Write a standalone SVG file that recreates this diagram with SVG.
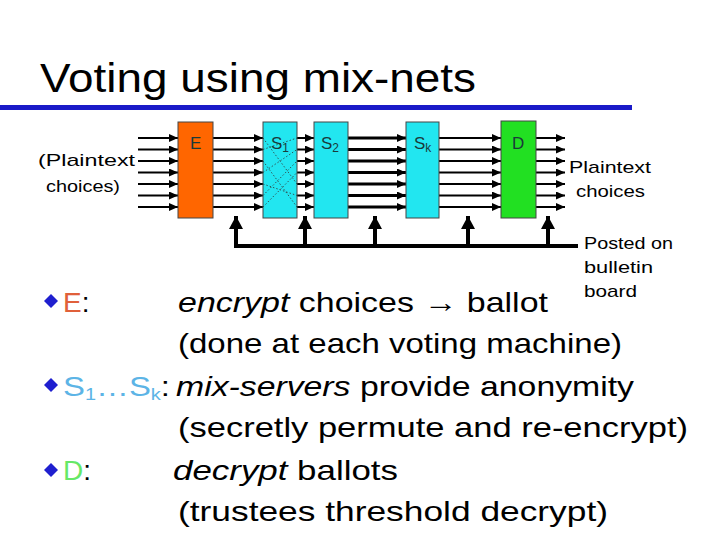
<svg xmlns="http://www.w3.org/2000/svg" width="720" height="540" viewBox="0 0 720 540">
<style>
.t{font-family:"Liberation Sans","DejaVu Sans",sans-serif;fill:#000}
.body{font-size:28px}
.lbl{font-size:17px}
.box{stroke:#444;stroke-width:1}
.bx{font-family:"Liberation Sans",sans-serif;font-size:17px;fill:#1a3a3a}
.ar line{stroke:#000;stroke-width:2;marker-end:url(#ah)}
.ark line{stroke:#000;stroke-width:3;marker-end:url(#ah)}
.up line{stroke:#000;stroke-width:4;marker-end:url(#uh)}
.dot{stroke:#333;stroke-width:0.8;stroke-dasharray:1.5 2;fill:none}
.bul{fill:#1f1fcf}
</style>
<defs>
<marker id="ah" markerUnits="userSpaceOnUse" markerWidth="9" markerHeight="8" refX="9" refY="4" orient="auto"><path d="M0,0 L9,4 L0,8 z" fill="#000"/></marker>
<marker id="uh" markerUnits="userSpaceOnUse" markerWidth="14" markerHeight="15" refX="13" refY="7" orient="auto"><path d="M0,0 L13,7 L0,14 z" fill="#000"/></marker>
</defs>
<rect width="720" height="540" fill="#fff"/>
<text class="t" x="40" y="92" font-size="40" textLength="436" lengthAdjust="spacingAndGlyphs">Voting using mix-nets</text>
<rect x="0" y="105" width="632" height="5" fill="#1a1ac8"/>

<g id="connectors">
<g class="ar">
<line x1="138" y1="138" x2="178" y2="138"/><line x1="138" y1="149.5" x2="178" y2="149.5"/><line x1="138" y1="161" x2="178" y2="161"/><line x1="138" y1="172.5" x2="178" y2="172.5"/><line x1="138" y1="184" x2="178" y2="184"/><line x1="138" y1="195.5" x2="178" y2="195.5"/><line x1="138" y1="207" x2="178" y2="207"/>
<line x1="213" y1="138" x2="263" y2="138"/><line x1="213" y1="149.5" x2="263" y2="149.5"/><line x1="213" y1="161" x2="263" y2="161"/><line x1="213" y1="172.5" x2="263" y2="172.5"/><line x1="213" y1="184" x2="263" y2="184"/><line x1="213" y1="195.5" x2="263" y2="195.5"/><line x1="213" y1="207" x2="263" y2="207"/>
<line x1="297" y1="138" x2="314" y2="138"/><line x1="297" y1="149.5" x2="314" y2="149.5"/><line x1="297" y1="161" x2="314" y2="161"/><line x1="297" y1="172.5" x2="314" y2="172.5"/><line x1="297" y1="184" x2="314" y2="184"/><line x1="297" y1="195.5" x2="314" y2="195.5"/><line x1="297" y1="207" x2="314" y2="207"/>
<line x1="439" y1="138" x2="501" y2="138"/><line x1="439" y1="149.5" x2="501" y2="149.5"/><line x1="439" y1="161" x2="501" y2="161"/><line x1="439" y1="172.5" x2="501" y2="172.5"/><line x1="439" y1="184" x2="501" y2="184"/><line x1="439" y1="195.5" x2="501" y2="195.5"/><line x1="439" y1="207" x2="501" y2="207"/>
<line x1="536" y1="138" x2="565" y2="138"/><line x1="536" y1="149.5" x2="565" y2="149.5"/><line x1="536" y1="161" x2="565" y2="161"/><line x1="536" y1="172.5" x2="565" y2="172.5"/><line x1="536" y1="184" x2="565" y2="184"/><line x1="536" y1="195.5" x2="565" y2="195.5"/><line x1="536" y1="207" x2="565" y2="207"/>
</g>
<g class="ark">
<line x1="348" y1="138" x2="406" y2="138"/><line x1="348" y1="149.5" x2="406" y2="149.5"/><line x1="348" y1="161" x2="406" y2="161"/><line x1="348" y1="172.5" x2="406" y2="172.5"/><line x1="348" y1="184" x2="406" y2="184"/><line x1="348" y1="195.5" x2="406" y2="195.5"/><line x1="348" y1="207" x2="406" y2="207"/>
</g>
<path d="M234,246H578" stroke="#000" stroke-width="4"/>
<g class="up">
<line x1="236" y1="248" x2="236" y2="216"/><line x1="305" y1="246" x2="305" y2="216"/><line x1="375" y1="246" x2="375" y2="216"/><line x1="468" y1="246" x2="468" y2="216"/><line x1="548" y1="246" x2="548" y2="216"/>
</g>
</g>

<g id="E"><rect class="box" x="178" y="122" width="35" height="96" fill="#ff6600"/><text class="bx" x="190" y="149">E</text></g>
<g id="S1"><rect class="box" x="263" y="122" width="34" height="96" fill="#22e6f0"/>
<path class="dot" d="M263,138L297,184M263,149.5L297,138M263,161L297,207M263,172.5L297,149.5M263,184L297,195.5M263,195.5L297,161M263,207L297,172.5"/>
<text class="bx" x="271" y="149" font-size="19">S<tspan font-size="12" dy="3">1</tspan></text></g>
<g id="S2"><rect class="box" x="314" y="122" width="34" height="96" fill="#22e6f0"/><text class="bx" x="321" y="149" font-size="19">S<tspan font-size="12" dy="3">2</tspan></text></g>
<g id="Sk"><rect class="box" x="406" y="122" width="33" height="96" fill="#22e6f0"/><text class="bx" x="414" y="149" font-size="19">S<tspan font-size="12" dy="3">k</tspan></text></g>
<g id="D"><rect class="box" x="501" y="121" width="35" height="97" fill="#22e022"/><text class="bx" x="512" y="149">D</text></g>

<g id="labels">
<text class="t lbl" x="38" y="166" textLength="97" lengthAdjust="spacingAndGlyphs">(Plaintext</text>
<text class="t lbl" x="46" y="192" textLength="74" lengthAdjust="spacingAndGlyphs">choices)</text>
<text class="t lbl" x="569" y="173" textLength="82" lengthAdjust="spacingAndGlyphs">Plaintext</text>
<text class="t lbl" x="576" y="197" textLength="69" lengthAdjust="spacingAndGlyphs">choices</text>
<text class="t lbl" x="584" y="249" textLength="89" lengthAdjust="spacingAndGlyphs">Posted on</text>
<text class="t lbl" x="584" y="273" textLength="69" lengthAdjust="spacingAndGlyphs">bulletin</text>
<text class="t lbl" x="584" y="297" textLength="53" lengthAdjust="spacingAndGlyphs">board</text>
</g>

<g id="bullets">
<path class="bul" d="M51,294L58,301L51,308L44,301z"/>
<path class="bul" d="M51,378L58,385L51,392L44,385z"/>
<path class="bul" d="M51,463L58,470L51,477L44,470z"/>
<text class="t body" x="63" y="312"><tspan fill="#e0603a">E</tspan>:</text>
<text class="t body" x="178" y="312" textLength="370" lengthAdjust="spacingAndGlyphs"><tspan font-style="italic">encrypt</tspan> choices → ballot</text>
<text class="t body" x="178" y="353" textLength="444" lengthAdjust="spacingAndGlyphs">(done at each voting machine)</text>
<text class="t body" x="63" y="396" textLength="107" lengthAdjust="spacingAndGlyphs"><tspan fill="#5cb4e6">S<tspan font-size="17" dy="4">1</tspan><tspan dy="-4">…S</tspan><tspan font-size="17" dy="4">k</tspan></tspan><tspan dy="-4">:</tspan></text>
<text class="t body" x="176" y="396" textLength="458" lengthAdjust="spacingAndGlyphs"><tspan font-style="italic">mix-servers</tspan> provide anonymity</text>
<text class="t body" x="178" y="437" textLength="510" lengthAdjust="spacingAndGlyphs">(secretly permute and re-encrypt)</text>
<text class="t body" x="63" y="480"><tspan fill="#66e866">D</tspan>:</text>
<text class="t body" x="173" y="480" textLength="225" lengthAdjust="spacingAndGlyphs"><tspan font-style="italic">decrypt</tspan> ballots</text>
<text class="t body" x="178" y="521" textLength="430" lengthAdjust="spacingAndGlyphs">(trustees threshold decrypt)</text>
</g>
</svg>
